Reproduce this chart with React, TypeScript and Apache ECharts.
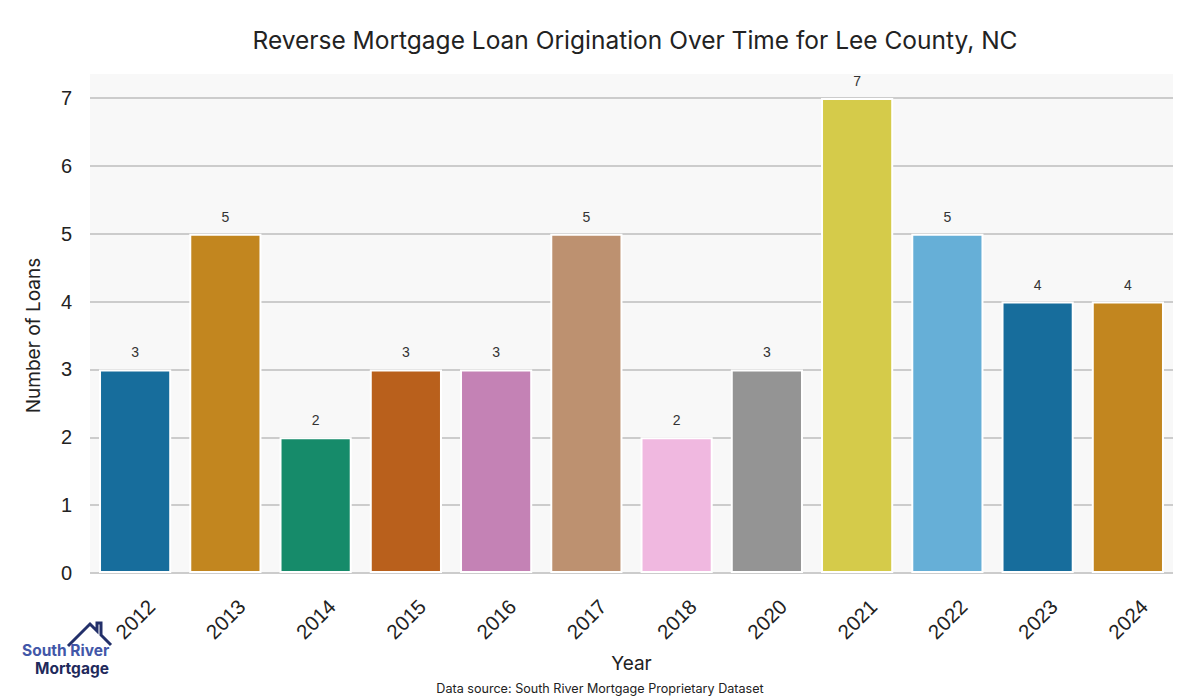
import React, { useEffect, useRef } from "react";
import * as echarts from "echarts";

const years = ["2012", "2013", "2014", "2015", "2016", "2017", "2018", "2020", "2021", "2022", "2023", "2024"];
const loans = [3, 5, 2, 3, 3, 5, 2, 3, 7, 5, 4, 4];
const barColors = ["#176d9c", "#c2861f", "#168b6a", "#b9601c", "#c482b5", "#bd9170", "#f0b8e0", "#949494", "#d5cb4a", "#66afd7", "#176d9c", "#c2861f"];

export default function App() {
  const ref = useRef<HTMLDivElement>(null);
  useEffect(() => {
    if (!ref.current) return;
    const chart = echarts.init(ref.current, null, { renderer: "svg" });
    chart.setOption({
      animation: false,
      backgroundColor: "#ffffff",
      title: {
        text: "Reverse Mortgage Loan Origination Over Time for Lee County, NC",
        left: 630,
        top: 22,
        textAlign: "center",
        textStyle: { fontFamily: "Inter", fontWeight: "normal", fontSize: 24.5, color: "#222" },
      },
      grid: { left: 90, right: 27, top: 98, bottom: 127, show: false },
      xAxis: {
        type: "category",
        data: years,
        name: "Year",
        nameLocation: "middle",
        nameGap: 81,
        nameTextStyle: { fontFamily: "Inter", fontSize: 19, color: "#222" },
        axisLine: { show: false },
        axisTick: { show: false },
        axisLabel: {
          rotate: 45,
          align: "center",
          verticalAlign: "middle",
          margin: 46,
          fontFamily: "Liberation Sans",
          fontSize: 20.5,
          color: "#222",
        },
      },
      yAxis: {
        type: "value",
        min: 0,
        max: 7,
        interval: 1,
        name: "Number of Loans",
        nameLocation: "middle",
        nameGap: 47,
        nameTextStyle: { fontFamily: "Inter", fontSize: 19, color: "#222" },
        axisLine: { show: false },
        axisTick: { show: false },
        axisLabel: {
          fontFamily: "Liberation Sans",
          fontSize: 20,
          color: "#222",
          margin: 18,
        },
        splitLine: { lineStyle: { color: "#cccccc", width: 2 } },
      },
      series: [
        {
          type: "bar",
          data: loans.map((v, i) => ({ value: v, itemStyle: { color: barColors[i] } })),
          barCategoryGap: "20%",
          itemStyle: { borderColor: "#ffffff", borderWidth: 2 },
          label: {
            show: true,
            position: "top",
            distance: 10,
            fontFamily: "Liberation Sans",
            fontSize: 14,
            color: "#333",
          },
        },
      ],
      graphic: [
        {
          type: "rect",
          z: -10,
          shape: { x: 90, y: 74, width: 1083, height: 499 },
          style: { fill: "#f8f8f8" },
          silent: true,
        },
        {
          type: "text",
          left: "center",
          top: 682,
          style: {
            text: "Data source: South River Mortgage Proprietary Dataset",
            fontFamily: "Inter",
            fontSize: 12.6,
            fill: "#222",
          },
        },
        {
          type: "polyline",
          shape: { points: [[68, 646], [90, 624], [97, 631], [97, 623], [101, 623], [101, 635], [111, 645]] },
          style: { stroke: "#23306a", lineWidth: 3, fill: null },
        },
        {
          type: "text",
          x: 22,
          y: 642,
          style: { text: "South River", fontFamily: "Inter", fontWeight: "bold", fontSize: 15.5, fill: "#4257a8" },
        },
        {
          type: "text",
          x: 35,
          y: 660,
          style: { text: "Mortgage", fontFamily: "Inter", fontWeight: "bold", fontSize: 15.5, fill: "#1f2a5c" },
        },
      ],
    });
    return () => chart.dispose();
  }, []);
  return <div ref={ref} style={{ width: 1200, height: 700, position: "absolute", left: 0, top: 0 }} />;
}
